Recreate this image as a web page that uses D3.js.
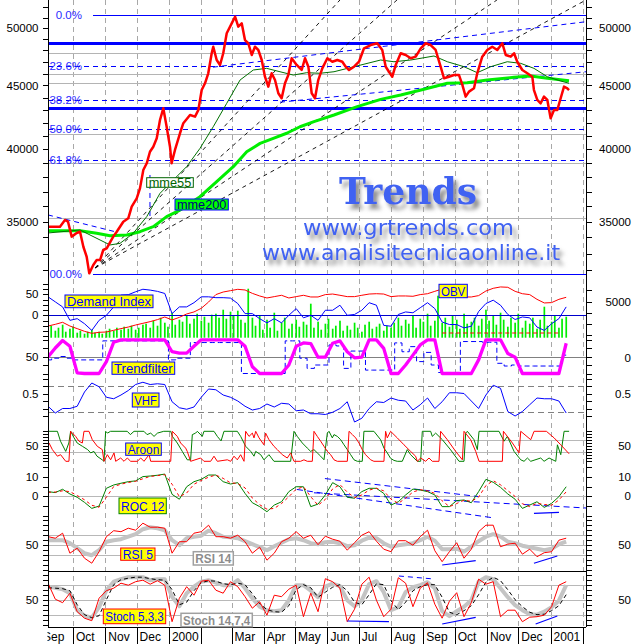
<!DOCTYPE html>
<html><head><meta charset="utf-8">
<script src="https://cdn.jsdelivr.net/npm/d3@7/dist/d3.min.js"></script>
<style>html,body{margin:0;padding:0;background:#fff}svg{display:block;font-family:"Liberation Sans",Arial,sans-serif}</style>
</head><body><svg id="chart" width="634" height="644"></svg>
<script>
// ---------------- DATA ----------------
const START = new Date(1999, 8, 7);
// weekly sampling dates (Tuesdays) for indicators
const weeks = d3.timeTuesday.range(new Date(1999, 8, 7), new Date(2001, 0, 17));
// twice-weekly dates for volume bars
const halfWeeks = d3.sort(
  d3.timeTuesday.range(new Date(1999, 8, 7), new Date(2001, 0, 19))
    .concat(d3.timeFriday.range(new Date(1999, 8, 7), new Date(2001, 0, 19))),
  (a, b) => a - b);

// price (days after 1999-09-07, close)
const priceDay = [0,11.5,16.3,19.2,22.7,27.5,30.7,33.9,37.1,39.6,43.4,46.7,49.9,53,56.3,62.6,65.9,72.2,77,80.3,85.1,88.2,91.4,94.7,97.8,101,104.3,107.4,110.6,113.8,117,118.6,121.8,126.6,129.8,136.2,141,144.2,147.4,150.6,153.7,157,158.5,161.8,165,168.1,171.4,176.2,179.4,182.5,185.8,188.9,192.1,195.4,198.5,201.7,205,208.1,211.3,214.5,217.7,220.9,224.1,227.3,230.5,233.7,238.5,243.3,246.5,249.7,252.9,256.1,259.2,263.1,267.9,272.7,277.5,282.3,285.5,288.7,293.5,298.3,303.1,309.5,315.8,320.6,323.9,327,330.2,333.5,338.3,343.1,347.9,352.7,357.5,362.3,367,371.8,376.6,379.8,384.6,389.4,394.2,397.4,400.6,403.8,408.6,411.7,416.5,421.3,426.1,430.9,435.7,439,443.8,447,450.1,454.9,459.7,464.5,466.1,469.3,472.5,475.7,478.9,482.1,485.3,488.5,491.7,494.9,498.1,499.7];
const priceClose = [34680,34680,35110,35000,34050,34280,34360,33420,32810,31820,32310,32610,32610,33220,33320,34050,34360,35000,35220,35980,36540,37220,38500,38980,39820,40190,40820,42220,43140,41700,40190,38980,39950,41200,41970,42610,42480,43010,44620,45180,46020,47750,48330,47160,46730,47750,49540,50460,51080,50150,50460,48930,48640,47600,48330,48040,47160,45730,44900,46020,45450,44350,43950,45180,45870,47310,46730,46300,47310,46580,44350,43950,45450,46440,47310,47010,47160,47010,46580,46300,46580,47010,48190,48480,48640,48040,46580,46150,45730,46730,47750,47600,47310,47450,48190,48640,48480,48040,46580,45600,45730,45870,45870,45040,44080,44490,44760,46020,47450,48040,48330,48040,48640,47600,47450,47750,47010,46300,46020,45730,44620,43810,43540,44080,43810,42360,43010,43010,43950,44900,44760,44620];
const mme55Day = [0,30.7,49.9,59.5,69.1,81.8,94.7,107.4,120.2,133,145.8,158.5,171.4,184.2,196.9,209.7,222.5,235.3,248.1,260.9,274.3,293.5,319.1,331.8,347.9,370.2,383,399,411.7,424.6,440.5,453.4,466.1,478.9,491.7,499.7];
const mme55 = [34280,34470,33840,33530,33630,34260,35330,36880,37800,38740,40070,41700,43540,45450,46300,46440,46150,45870,46070,46020,46150,46580,47160,47010,47160,47510,47010,46580,46070,46580,47010,46870,46440,45730,45370,45180];
const mme200Day = [0,30.7,46.7,59.5,75.5,88.2,101,113.8,126.6,145.8,161.8,177.7,190.6,203.4,216.1,228.9,241.7,255.1,274.3,296.6,319.1,338.3,360.6,383,402.1,421.3,446.9,462.9,478.9,499.7];
const mme200 = [34420,34420,34260,34110,34150,34360,34680,35330,35760,36650,37680,38740,39820,40440,40820,41200,41700,42090,42610,43270,43860,44210,44680,45180,45230,45450,45680,45790,45600,45390];

// weekly indicators
const demandIndex = [44,32,20,-12,-8,-20,-36,-12,0,20,48,49,56,62,60,57,52,4,20,20,30,44,44,42,42,41,28,4,4,-8,-18,-8,-18,0,16,-6,0,-12,12,12,24,0,2,12,30,24,-24,-26,2,8,6,18,30,16,-16,-22,-22,-30,-26,9,28,36,24,2,-10,-4,-6,-28,-36,-20,-8,20];
const obv = [2840,2990,3170,2840,2610,2370,2190,2280,2310,2460,2610,2750,2930,3080,3230,3410,3640,3380,3610,3910,4090,4410,4970,5630,5860,5980,6100,6040,5740,5510,5330,5450,5570,5330,5450,5570,5420,5420,5630,5680,5570,5450,5450,5570,5680,5710,5680,5450,5510,5510,5480,5630,5710,5920,6130,6040,5710,5420,5420,5540,5950,6190,6310,6280,5920,5710,5630,5210,4890,4920,5210,5390];
const volume = [8,12,7,10,13,6,9,11,5,7,4,6,8,5,6,4,7,9,7,10,8,11,9,12,8,10,13,14,10,17,12,20,15,11,25,13,18,16,22,14,19,24,17,21,15,23,24,20,28,19,26,22,27,18,15,49,20,12,22,8,18,10,25,7,15,20,9,14,18,11,16,13,34,10,16,8,14,19,9,12,17,7,12,8,15,10,6,13,16,9,11,14,7,12,10,15,20,12,18,14,22,10,19,16,24,12,17,42,15,20,11,22,18,9,24,14,16,20,12,19,28,17,22,13,25,18,11,20,15,24,10,17,14,20,9,18,31,12,16,22,10,19,21];
const trendFilter = [49,75,97,80,2,0,0,0,35,92,99,99,99,99,99,99,99,64,60,60,80,99,99,99,99,99,99,80,20,0,0,0,0,25,80,90,88,48,48,89,96,64,46,48,99,99,74,0,0,25,54,84,99,99,0,0,0,0,0,40,99,99,99,59,48,0,0,0,0,0,0,89];
const trendFilterSignal = [40,45,50,45,40,40,40,40,96,96,96,96,96,96,96,96,96,40,45,45,91,91,91,91,91,91,91,0,0,0,0,0,0,96,96,45,15,25,25,84,81,15,66,66,10,10,10,10,90,64,79,35,62,25,3,3,3,94,94,94,92,92,30,22,25,22,22,22,22,22,22,54];
const vhf = [0.33,0.24,0.30,0.30,0.33,0.52,0.64,0.59,0.45,0.43,0.48,0.54,0.62,0.65,0.62,0.63,0.62,0.39,0.31,0.29,0.32,0.45,0.56,0.55,0.48,0.45,0.40,0.33,0.28,0.30,0.36,0.32,0.37,0.36,0.27,0.28,0.23,0.23,0.22,0.25,0.30,0.39,0.12,0.17,0.30,0.39,0.38,0.44,0.41,0.40,0.28,0.35,0.44,0.30,0.39,0.51,0.51,0.50,0.40,0.30,0.48,0.61,0.57,0.26,0.20,0.26,0.35,0.44,0.43,0.43,0.40,0.24];
const roc12 = [2.4,1.9,3.6,1.2,-0.5,-3.1,-6.2,-5.0,4.1,5.8,6.7,7.5,7.9,10.1,10.4,10.8,11.4,1.0,-1.5,4.9,7.5,8.7,10.9,10.9,7.5,6.3,7.0,1.5,-3.3,-5.3,-7.9,-4.5,-2.8,2.4,4.9,4.9,-5.3,-4.0,0.7,7.0,4.9,-0.5,-1.0,2.4,4.1,4.1,1.5,-4.5,-2.8,0.7,3.7,3.2,2.4,0.7,-5.3,-5.3,-2.2,-1.9,-3.3,2.4,8.7,7.2,4.6,1.2,-1.5,-6.2,-4.5,-2.8,-5.7,-3.6,-0.2,4.9];
const roc12Signal = [2.0,2.2,2.8,2.4,0.4,-1.8,-4.6,-5.6,-0.5,5.0,6.2,7.1,7.7,9.0,10.2,10.6,11.1,6.2,-0.2,1.7,6.2,8.1,9.8,10.9,9.2,6.9,6.6,4.3,-0.9,-4.3,-6.6,-6.2,-3.7,-0.2,3.6,4.9,-0.2,-4.6,-1.6,3.8,6.0,2.2,-0.7,0.7,3.2,4.1,2.8,-1.5,-3.6,-1.0,2.2,3.4,2.8,1.5,-2.3,-5.3,-3.7,-2.0,-2.6,-0.4,5.5,8.0,5.9,2.9,-0.1,-3.8,-5.3,-3.6,-4.2,-4.6,-1.9,2.3];
const rsi5 = [66,63,73,33,43,23,13,36,66,78,76,83,79,93,85,85,83,33,56,56,73,76,89,66,66,63,69,56,33,45,19,33,56,63,76,63,69,50,67,61,57,39,54,69,76,57,41,36,58,58,49,66,79,38,16,36,54,23,41,76,89,89,46,51,53,31,41,26,34,36,59,63];
const rsi14 = [59,59,59,53,43,33,29,39,56,59,61,66,71,81,85,83,79,59,49,63,66,68,78,73,66,65,63,57,51,45,39,47,54,61,63,59,53,51,55,56,53,47,49,58,64,63,53,46,49,51,53,59,66,58,41,41,42,36,46,57,66,71,66,56,53,48,45,42,39,42,51,56];
const stoch533 = [83,51,44,63,26,13,8,53,68,73,83,79,86,89,81,88,79,6,53,76,59,87,89,69,63,86,76,56,33,46,19,59,56,71,79,16,63,26,92,86,73,6,31,81,95,49,16,31,94,83,36,73,84,41,13,47,64,16,44,91,81,86,16,29,29,6,15,16,19,36,79,86];
const stoch1474 = [76,74,71,63,29,18,14,35,69,86,91,95,95,95,89,91,91,56,37,63,76,86,89,84,79,79,89,73,53,36,29,27,29,49,79,79,68,55,76,82,77,49,37,49,81,87,65,29,35,65,75,79,85,73,27,17,27,36,49,86,95,91,73,55,39,29,21,20,26,35,48,79];
const stoch1474Signal = [74,73,72,68,40,20,14,18,50,80,90,93,95,95,92,90,89,70,40,45,68,84,88,87,82,80,83,80,62,42,30,26,25,38,70,80,74,55,65,75,80,68,45,40,60,82,80,48,30,45,68,76,80,80,55,25,20,28,38,60,85,95,88,70,50,36,25,20,21,28,38,60];

// Aroon as [day, value] pairs (sawtooth)
const aroonUp = [[1,100],[9,100],[12,67],[17,33],[20,61],[21.7,100],[25,78],[28,61],[33,50],[38,39],[41,28],[44,33],[47,17],[52,5],[53.7,0],[55.3,100],[57,94],[60,100],[76,100],[79,89],[82.5,100],[92,100],[95,89],[98.5,94],[101.7,83],[105,94],[111,100],[117.7,100],[119.3,83],[124,61],[128.8,33],[133.6,5],[136.8,5],[138.4,89],[141.6,94],[143.2,100],[148,83],[149.6,100],[159.2,100],[162.4,83],[166,68],[168.8,100],[181.6,100],[184.8,83],[189.6,50],[194.4,33],[197.6,17],[199.2,33],[204,22],[207.1,5],[211.9,22],[216.7,0],[232.7,0],[235.9,100],[239.1,83],[243.9,61],[248.7,44],[251.9,33],[255.1,39],[258.3,28],[261.5,17],[264.7,5],[267.9,94],[269.5,100],[272.7,78],[274.3,89],[277.5,83],[280.7,72],[283.9,55],[287.1,39],[290.3,22],[293.5,5],[296.7,0],[301.4,0],[303,100],[312.6,100],[319,72],[322.2,44],[325.4,28],[328.6,10],[331.8,3],[335,0],[339.8,0],[344.6,39],[347.8,22],[354.2,0],[357.4,0],[359,100],[367,100],[368.6,83],[371.8,94],[378.2,72],[386.2,38],[394.2,0],[399,0],[400.6,94],[402.2,100],[408.6,72],[411.8,39],[413.4,100],[432.6,100],[437.4,67],[440.6,83],[447,33],[453.4,5],[456.6,0],[459.8,11],[463,0],[472.6,11],[475.8,0],[480.6,11],[487,0],[488.6,55],[491.8,22],[495,100],[499.8,100]];
const aroonDown = [[1,61],[4.2,39],[9,17],[12.1,22],[17,0],[20.1,0],[21.7,100],[26.5,83],[29.7,67],[32.9,61],[34.5,100],[39.3,100],[42.5,72],[47.3,50],[52.1,39],[53.7,0],[56.9,22],[60.1,5],[63.3,28],[64.9,0],[69.7,11],[72.9,0],[76.1,11],[79.3,0],[85.7,0],[88.9,11],[92.1,0],[96.9,22],[98.5,0],[117.7,0],[119.2,100],[124,83],[127.2,61],[132,44],[133.6,33],[136.8,0],[146.4,11],[149.6,0],[156,0],[159.2,17],[162.4,0],[172,5],[175.2,0],[178.4,17],[181.6,5],[184.8,22],[188,0],[189.6,100],[192.8,83],[196,94],[197.6,78],[199.2,100],[202.4,78],[207.1,55],[208.7,94],[211.9,72],[216.7,50],[219.9,39],[224.7,22],[229.5,11],[232.7,28],[235.9,0],[242.3,0],[245.5,5],[248.7,0],[253.5,0],[255.1,100],[258.3,83],[261.5,67],[264.7,50],[267.9,33],[271.1,22],[274.3,5],[277.5,0],[287.1,0],[288.7,100],[291.9,89],[295.1,78],[298.3,61],[301.4,39],[304.6,22],[309.4,5],[312.6,0],[322.2,0],[323.8,100],[325.4,78],[328.6,100],[335,78],[341.4,55],[347.8,33],[352.6,17],[354.2,0],[357.4,11],[362.2,0],[365.4,11],[368.6,0],[375,0],[376.6,100],[383,72],[391,33],[397.4,5],[399,100],[405.4,72],[410.2,33],[413.4,0],[435.8,0],[436.8,100],[445.4,61],[451.8,28],[453.4,100],[463,72],[466.2,100],[478,100],[485.4,78],[491.8,55],[499.8,25]];

// levels and annotations (day, value)
const fibHigh = 51240, fibLow = 31800;
const fibRatios = [0, 0.236, 0.382, 0.5, 0.618, 1];
const fibLabels = ["0.0%", "23.6%", "38.2%", "50.0%", "61.8%", "00.0%"];
const keyLevels = [48690, 43190];
const grayLevels = [47750, 45980, 45180, 41120, 38980, 35220];
const fanLines = [[[45.1,32135],[280,52680]],[[45.1,32135],[334.7,52680]],[[45.1,32135],[430.6,52680]],[[45.1,32135],[516,52680]]];
const channelLines = [[[158.2,46540],[516,50610]],[[222.5,43630],[516,46150]],[[0,35440],[66.2,34330]],[[97.8,38150],[97.8,35300]]];
const obvSupport = [[378.1,2220],[491.7,2220]];
const rocDashed = [[[265.6,9.1],[412.4,-0.1]],[[238.8,3.5],[427.7,-11.1]],[[255.1,1.8],[516,-6]]];
const rocSolid = [[[466.1,-8.8],[490.1,-8.2]]];
const rsiSolid = [[[378.1,9.4],[410.2,18]],[[466.1,12.8],[488.5,27.4]]];
const stochSolid = [[[287.1,7.4],[327,6]],[[378.1,1.4],[410.2,14.8]],[[467.7,1.4],[488.5,17.4]]];
const stochDashed = [[[336.6,97.4],[370.2,91.4]]];

// ---------------- CHART ----------------
const dayToDate = d => d3.timeHour.offset(START, Math.round(d * 24));
const X0 = 48, X1 = 586, YB = 627;
const x = d3.scaleTime().domain([new Date(1999, 8, 7), new Date(2001, 1, 4)]).range([X0, X1]);
const yPrice = d3.scaleLog().domain([35000, 50000]).range([221.7, 28.3]);
const yDI = d3.scaleLinear().domain([0, 50]).range([315.3, 294.3]);
const yOBV = d3.scaleLinear().domain([0, 5000]).range([358, 301.7]);
const hVol = d3.scaleLinear().domain([0, 50]).range([0, 50]);
const yTF = d3.scaleLinear().domain([0, 100]).range([373.5, 339.5]);
const yVHF = d3.scaleLinear().domain([0.5, 0.6]).range([393.5, 386]);
const yAroon = d3.scaleLinear().domain([0, 100]).range([461.3, 431.3]);
const yROC = d3.scaleLinear().domain([0, 10]).range([496.3, 476.8]);
const yRSI = d3.scaleLinear().domain([0, 100]).range([569.7, 519.7]);
const yStoch = d3.scaleLinear().domain([0, 100]).range([624.7, 574.7]);

const svg = d3.select("#chart");
svg.append("rect").attr("width", 634).attr("height", 644).attr("fill", "#fff");
const defs = svg.append("defs");
function clip(id, y0, y1, xa = X0, xb = X1) {
  defs.append("clipPath").attr("id", id).append("rect").attr("x", xa).attr("y", y0).attr("width", xb - xa).attr("height", y1 - y0);
}
clip("cpPrice", 0, 283); clip("cpDI", 282, 339); clip("cpTF", 337, 377); clip("cpVHF", 377, 426);
clip("cpAroon", 426, 465); clip("cpROC", 465, 521); clip("cpRSI", 516, 571); clip("cpStoch", 571, 627);
clip("cpSep", 620, 644, 47.5, 100);
// drop shadow filter (one text element carries both glyphs and shadow)
const sh = defs.append("filter").attr("id", "shadow").attr("x", "-10%").attr("y", "-40%").attr("width", "130%").attr("height", "200%");
sh.append("feGaussianBlur").attr("in", "SourceAlpha").attr("stdDeviation", 2.2).attr("result", "b");
sh.append("feOffset").attr("in", "b").attr("dx", 4).attr("dy", 5).attr("result", "o");
sh.append("feFlood").attr("flood-color", "#8c8c8c").attr("result", "f");
sh.append("feComposite").attr("in", "f").attr("in2", "o").attr("operator", "in").attr("result", "s");
const mrg = sh.append("feMerge");
mrg.append("feMergeNode").attr("in", "s");
mrg.append("feMergeNode").attr("in", "SourceGraphic");

const pairs = (dates, vals) => vals.map((v, i) => [dates[i], v]).filter(d => d[0] != null && d[1] != null);
const dayPairs = arr => arr.map(p => [dayToDate(p[0]), p[1]]);
function drawPath(g, pts, ys, attrs, curve) {
  const gen = d3.line().x(d => x(d[0])).y(d => ys(d[1]));
  if (curve) gen.curve(curve);
  const p = g.append("path").attr("d", gen(pts)).attr("fill", "none").attr("stroke-linejoin", "round");
  Object.entries(attrs).forEach(([k, v]) => p.attr(k, v));
  return p;
}
function hline(g, v, ys, attrs, d0, d1) {
  const yy = Math.round(ys(v)) + 0.5;
  const l = g.append("line").attr("x1", d0 != null ? x(d0) : X0).attr("x2", d1 != null ? x(d1) : X1)
    .attr("y1", yy).attr("y2", yy).attr("shape-rendering", "crispEdges");
  Object.entries(attrs).forEach(([k, a]) => l.attr(k, a));
}

// month grid
const months = d3.timeMonth.range(new Date(1999, 9, 1), new Date(2001, 1, 2));
svg.append("g").selectAll("line").data(months).join("line")
  .attr("x1", d => Math.round(x(d)) + 0.5).attr("x2", d => Math.round(x(d)) + 0.5).attr("y1", 0).attr("y2", YB)
  .attr("stroke", "#a8a8a8").attr("stroke-dasharray", "5,4").attr("shape-rendering", "crispEdges");

// ---- price panel
const gP = svg.append("g").attr("clip-path", "url(#cpPrice)");
grayLevels.forEach(v => hline(gP, v, yPrice, {stroke: "#b4b4b4", "stroke-width": 1}));
fibRatios.forEach((r, i) => {
  const v = fibHigh - r * (fibHigh - fibLow);
  if (r === 0 || r === 1) hline(gP, v, yPrice, {stroke: "#0000ff", "stroke-width": 1}, dayToDate(43));
  else hline(gP, v, yPrice, {stroke: "#0000ff", "stroke-width": 1, "stroke-dasharray": "5,4"});
});
keyLevels.forEach(v => hline(gP, v, yPrice, {stroke: "#0000ff", "stroke-width": 3}));
fanLines.forEach(l => drawPath(gP, dayPairs(l), yPrice, {stroke: "#000", "stroke-width": 0.9, "stroke-dasharray": "4,4"}));
channelLines.forEach(l => drawPath(gP, dayPairs(l), yPrice, {stroke: "#0000ff", "stroke-width": 1, "stroke-dasharray": "5,4"}));

// watermark
const wm = svg.append("g").attr("filter", null);
function wmText(t, xx, yy, size, len, family, weight) {
  wm.append("text").attr("x", xx).attr("y", yy).attr("font-size", size).attr("font-family", family)
    .attr("font-weight", weight).attr("textLength", len).attr("lengthAdjust", "spacingAndGlyphs")
    .attr("fill", "#3f62f2").attr("filter", "url(#shadow)").text(t);
}
wmText("Trends", 339, 204, 37, 138, "'DejaVu Serif', serif", "bold");
wmText("www.grtrends.com", 303, 235, 21, 211, "'DejaVu Sans', sans-serif", "normal");
wmText("www.analisitecnicaonline.it", 262, 259.5, 21, 298, "'DejaVu Sans', sans-serif", "normal");

const priceDates = priceDay.map(dayToDate);
drawPath(gP, pairs(mme200Day.map(dayToDate), mme200), yPrice, {stroke: "#00ee00", "stroke-width": 3});
drawPath(gP, pairs(mme55Day.map(dayToDate), mme55), yPrice, {stroke: "#007000", "stroke-width": 1});
drawPath(gP, pairs(priceDates, priceClose), yPrice, {stroke: "#ff0000", "stroke-width": 2.5});

// fib labels
fibRatios.forEach((r, i) => {
  const v = fibHigh - r * (fibHigh - fibLow);
  svg.append("text").attr("x", 82).attr("y", yPrice(v)).attr("dy", "0.36em").attr("text-anchor", "end")
    .attr("font-size", 11.5).attr("fill", "#2a2aff").text(fibLabels[i]);
});

// ---- demand index / OBV / volume
const gD = svg.append("g").attr("clip-path", "url(#cpDI)");
gD.selectAll("rect").data(pairs(halfWeeks, volume)).join("rect")
  .attr("x", d => x(d[0]) - 0.8).attr("width", 1.7)
  .attr("y", d => 337.7 - hVol(d[1])).attr("height", d => hVol(d[1])).attr("fill", "#00ee00");
hline(gD, 0, yDI, {stroke: "#0000cc", "stroke-width": 1.3});
drawPath(gD, dayPairs(obvSupport), yOBV, {stroke: "#ff0000", "stroke-width": 1, "stroke-dasharray": "4,3"});
drawPath(gD, pairs(weeks, obv), yOBV, {stroke: "#ff0000", "stroke-width": 1});
drawPath(gD, pairs(weeks, demandIndex), yDI, {stroke: "#0000ff", "stroke-width": 1});

// ---- trendfilter
const gT = svg.append("g").attr("clip-path", "url(#cpTF)");
hline(gT, 50, yTF, {stroke: "#808080", "stroke-width": 1});
drawPath(gT, pairs(weeks, trendFilterSignal), yTF, {stroke: "#0000ff", "stroke-width": 1, "stroke-dasharray": "5,3"}, d3.curveStep);
drawPath(gT, pairs(weeks, trendFilter), yTF, {stroke: "#ff00ff", "stroke-width": 3.3});

// ---- VHF
const gV = svg.append("g").attr("clip-path", "url(#cpVHF)");
[0.6, 0.25].forEach(v => hline(gV, v, yVHF, {stroke: "#808080", "stroke-width": 1, "stroke-dasharray": "6,4"}));
drawPath(gV, pairs(weeks, vhf), yVHF, {stroke: "#0000ff", "stroke-width": 1});

// ---- Aroon
const gA = svg.append("g").attr("clip-path", "url(#cpAroon)");
[70, 30].forEach(v => hline(gA, v, yAroon, {stroke: "#b8b8b8", "stroke-width": 1}));
drawPath(gA, dayPairs(aroonUp), yAroon, {stroke: "#008000", "stroke-width": 1});
drawPath(gA, dayPairs(aroonDown), yAroon, {stroke: "#ff0000", "stroke-width": 1});

// ---- ROC
const gR = svg.append("g").attr("clip-path", "url(#cpROC)");
hline(gR, 0, yROC, {stroke: "#b8b8b8", "stroke-width": 1});
rocDashed.forEach(l => drawPath(gR, dayPairs(l), yROC, {stroke: "#0000ff", "stroke-width": 1, "stroke-dasharray": "6,4"}));
drawPath(gR, pairs(weeks, roc12), yROC, {stroke: "#008000", "stroke-width": 1});
drawPath(gR, pairs(weeks, roc12Signal), yROC, {stroke: "#ff0000", "stroke-width": 1, "stroke-dasharray": "3,3"});
rocSolid.forEach(l => drawPath(gR, dayPairs(l), yROC, {stroke: "#0000ff", "stroke-width": 1.2}));

// ---- RSI
const gS = svg.append("g").attr("clip-path", "url(#cpRSI)");
[70, 50, 30].forEach(v => hline(gS, v, yRSI, {stroke: "#b8b8b8", "stroke-width": 1}));
drawPath(gS, pairs(weeks, rsi14), yRSI, {stroke: "#c4c4c4", "stroke-width": 4});
drawPath(gS, pairs(weeks, rsi5), yRSI, {stroke: "#ff0000", "stroke-width": 1});
rsiSolid.forEach(l => drawPath(gS, dayPairs(l), yRSI, {stroke: "#0000ff", "stroke-width": 1.2}));

// ---- Stochastics
const gK = svg.append("g").attr("clip-path", "url(#cpStoch)");
[80, 50, 20].forEach(v => hline(gK, v, yStoch, {stroke: "#b8b8b8", "stroke-width": 1}));
drawPath(gK, pairs(weeks, stoch1474), yStoch, {stroke: "#c4c4c4", "stroke-width": 4});
drawPath(gK, pairs(weeks, stoch1474Signal), yStoch, {stroke: "#000", "stroke-width": 1, "stroke-dasharray": "4,3"});
drawPath(gK, pairs(weeks, stoch533), yStoch, {stroke: "#ff0000", "stroke-width": 1});
stochSolid.forEach(l => drawPath(gK, dayPairs(l), yStoch, {stroke: "#0000ff", "stroke-width": 1.2}));
stochDashed.forEach(l => drawPath(gK, dayPairs(l), yStoch, {stroke: "#0000ff", "stroke-width": 1, "stroke-dasharray": "5,4"}));

// separator between RSI and Stoch
svg.append("line").attr("x1", X0).attr("x2", X1).attr("y1", 571.5).attr("y2", 571.5).attr("stroke", "#000").attr("shape-rendering", "crispEdges");

// ---- axes frame
const ax = svg.append("g").attr("stroke", "#000").attr("stroke-width", 1).attr("shape-rendering", "crispEdges");
ax.append("line").attr("x1", X0 + 0.5).attr("x2", X0 + 0.5).attr("y1", 0).attr("y2", YB);
ax.append("line").attr("x1", X1 + 0.5).attr("x2", X1 + 0.5).attr("y1", 0).attr("y2", YB);
ax.append("line").attr("x1", X0).attr("x2", X1).attr("y1", YB + 0.5).attr("y2", YB + 0.5);
ax.selectAll(".mt").data(months).join("line").attr("x1", d => Math.round(x(d)) + 0.5).attr("x2", d => Math.round(x(d)) + 0.5).attr("y1", YB).attr("y2", 644);

// ticks
const tickSets = [
  [yPrice, d3.range(31000, 53000, 1000), 0, 283],
  [yTF, d3.range(0, 101, 25), 337, 377],
  [yVHF, d3.range(0.2, 0.75, 0.1), 377, 426],
  [yAroon, d3.range(0, 101, 10), 426, 465],
  [yROC, d3.range(-10, 16, 5), 465, 519],
  [yRSI, d3.range(0, 101, 10), 519, 571],
  [yStoch, d3.range(0, 101, 10), 572, 627]
];
function ticks(side, sets) {
  sets.forEach(([s, vals, y0, y1]) => {
    vals.map(v => s(v)).filter(yy => yy >= y0 && yy <= y1).forEach(yy => {
      const ry = Math.round(yy) + 0.5;
      ax.append("line").attr("x1", side === "L" ? X0 - 5 : X1).attr("x2", side === "L" ? X0 : X1 + 6).attr("y1", ry).attr("y2", ry);
    });
  });
}
ticks("L", tickSets.concat([[yDI, d3.range(-50, 80, 12.5), 283, 339]]));
ticks("R", tickSets.concat([[yOBV, d3.range(0, 8000, 1000), 283, 339]]));

// value labels
const leftLabels = [[yPrice, [35000, 40000, 45000, 50000]], [yDI, [0, 50]], [yTF, [50]], [yVHF, [0.5]], [yAroon, [50]], [yROC, [0, 10]], [yRSI, [50]], [yStoch, [50]]];
const rightLabels = [[yPrice, [35000, 40000, 45000, 50000]], [yOBV, [0, 5000]], [yVHF, [0.5]], [yAroon, [50]], [yROC, [0, 10]], [yRSI, [50]], [yStoch, [50]]];
const lab = svg.append("g").attr("font-size", 11.5).attr("fill", "#000");
leftLabels.forEach(([s, vals]) => vals.forEach(v => lab.append("text").attr("x", 38.5).attr("y", s(v)).attr("dy", "0.36em").attr("text-anchor", "end").text(String(v))));
rightLabels.forEach(([s, vals]) => vals.forEach(v => lab.append("text").attr("x", 631).attr("y", s(v)).attr("dy", "0.36em").attr("text-anchor", "end").text(String(v))));

// month labels
const mfmt = d => d.getMonth() === 0 ? d3.timeFormat("%Y")(d) : d.getMonth() === 1 ? "" : d3.timeFormat("%b")(d);
const ml = svg.append("g").attr("font-size", 12).attr("fill", "#000");
months.forEach(m => { const t = mfmt(m); if (t) ml.append("text").attr("x", x(m) + 3).attr("y", 640.5).text(t); });
ml.append("text").attr("x", 43).attr("y", 640.5).attr("clip-path", "url(#cpSep)").text(d3.timeFormat("%b")(START));

// label boxes
const boxes = [
  {t: "Demand Index", x: 65, y: 295, w: 88, h: 12.7},
  {t: "OBV", x: 439, y: 284.3, w: 28.3, h: 13.4},
  {t: "Trendfilter", x: 112, y: 362, w: 62.7, h: 12.3},
  {t: "VHF", x: 132.3, y: 393, w: 26.7, h: 14},
  {t: "Aroon", x: 125.7, y: 443, w: 35.6, h: 12.3},
  {t: "ROC 12", x: 119, y: 498, w: 47.3, h: 15.7, stroke: "#008000"},
  {t: "RSI 5", x: 120.7, y: 548, w: 34.3, h: 12.3, stroke: "#ff0000"},
  {t: "RSI 14", x: 193.3, y: 551.7, w: 40, h: 13.3, fill: "#fff", stroke: "#a0a0a0", color: "#8c8c8c", bold: true},
  {t: "Stoch 5,3,3", x: 103.3, y: 609, w: 62.4, h: 14.7, stroke: "#ff0000"},
  {t: "Stoch 14,7,4", x: 181, y: 613.3, w: 71.3, h: 13.4, fill: "#fff", stroke: "#a0a0a0", color: "#8c8c8c", bold: true},
  {t: "mme55", x: 146.7, y: 177.7, w: 46.6, h: 9.6, fill: "#fff", stroke: "#006400", color: "#006400", size: 12},
  {t: "mme200", x: 175, y: 199, w: 53.3, h: 11, fill: "#00ff00", stroke: "#0000ff", color: "#000080", size: 12}
];
const gb = svg.append("g");
boxes.forEach(b => {
  gb.append("rect").attr("x", b.x).attr("y", b.y).attr("width", b.w).attr("height", b.h)
    .attr("fill", b.fill || "#ffff00").attr("stroke", b.stroke || "#0000ff").attr("stroke-width", b.bold ? 1.5 : 1);
  gb.append("text").attr("x", b.x + b.w / 2).attr("y", b.y + b.h / 2).attr("dy", "0.36em").attr("text-anchor", "middle")
    .attr("font-size", b.size || 13).attr("font-weight", b.bold ? "bold" : "normal")
    .attr("textLength", b.w - 4).attr("lengthAdjust", "spacingAndGlyphs")
    .attr("fill", b.color || "#0000ff").text(b.t);
});
</script></body></html>
